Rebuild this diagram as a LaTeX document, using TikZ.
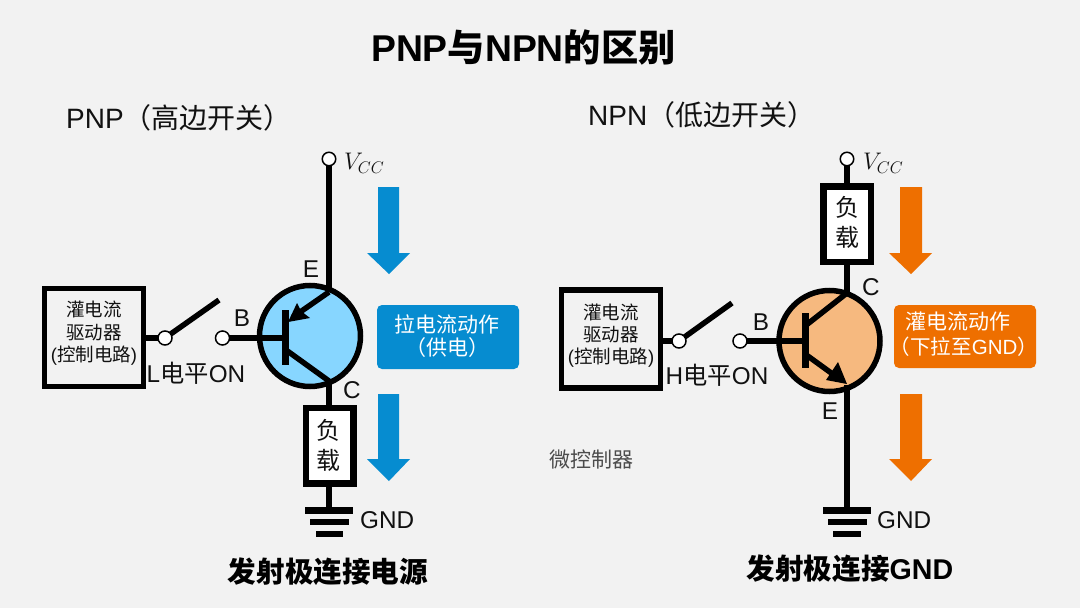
\documentclass[tikz,border=0pt]{standalone}
\usepackage{fix-cm}
\usepackage{fontspec}
\setmainfont{Liberation Sans}
\newfontfamily\cjk{Noto Sans CJK SC}
\usetikzlibrary{calc}
\definecolor{bgc}{HTML}{F2F2F2}
\definecolor{pnpblue}{HTML}{068CD0}
\definecolor{npnorange}{HTML}{EE6F00}
\definecolor{pnpfill}{HTML}{87D6FF}
\definecolor{npnfill}{HTML}{F6B97F}
\definecolor{inkc}{HTML}{111111}
\newcommand{\fs}[1]{\fontsize{#1}{#1}\selectfont}
\tikzset{
  x=1pt,y=-1pt,
  wire/.style={draw=black,line width=6.5pt},
  thinwire/.style={draw=black,line width=5.5pt},
  bar/.style={draw=black,line width=6.5pt},
  term/.style={circle,draw=black,fill=white,line width=1.5pt,minimum size=14pt,inner sep=0pt},
  vterm/.style={circle,draw=black,fill=white,line width=1.5pt,minimum size=13.5pt,inner sep=0pt},
  drv/.style={draw=black,line width=5.5pt,fill=bgc,minimum width=99pt,minimum height=98pt,inner sep=0pt},
  load/.style={draw=black,line width=6.5pt,fill=white,minimum width=47.5pt,minimum height=75.5pt,inner sep=0pt},
  body/.style={circle,draw=black,line width=5.5pt,minimum size=101pt,inner sep=0pt},
  lab/.style={inner sep=0pt,text=inkc,font=\fs{24.3}},
  drvtext/.style={inner sep=0pt,align=center,text=inkc,font=\fs{18.5},text height=14pt,text depth=3pt},
  act/.style={draw=none,rounded corners=5pt,inner sep=0pt},
  acttext/.style={inner sep=0pt,text=white,font=\fs{21}},
}
\begin{document}
\begin{tikzpicture}
\useasboundingbox (0,0) rectangle (1080,608);
\fill[bgc] (0,0) rectangle (1080,608);

% titles
\node[inner sep=0pt,font=\fs{37.3}\bfseries] (title) at (523.5,47) {PNP{\cjk 与}NPN{\cjk 的区别}};
\node[lab,font=\fs{28},anchor=west] (tp) at (66,118) {PNP{\cjk （高边开关）}};
\node[lab,font=\fs{28},anchor=west] (tn) at (588,115) {NPN{\cjk （低边开关）}};
\node[inner sep=0pt,font=\fs{28.6}\bfseries] (cp) at (328,572) {\cjk 发射极连接电源};
\node[inner sep=0pt,font=\fs{28.6}\bfseries] (cn) at (850,569) {{\cjk 发射极连接}GND};
\node[inner sep=0pt,text=black!70,font=\fs{21}\cjk] (mcu) at (591,460) {微控制器};

% ---------- PNP ----------
\node[body,fill=pnpfill] (bp) at (310,336) {};
\coordinate (ep) at (329,292);
\coordinate (cpp) at (329,381);
\node[load] (lp) at (329.5,445.5) {};
\node[inner sep=0pt,font=\fs{24}\cjk,text=inkc] (lpa) at (328,430) {负};
\node[inner sep=0pt,font=\fs{24}\cjk,text=inkc] (lpb) at (328,460) {载};
\coordinate (gp) at (329,510);
\draw[wire] (329,159) -- (ep);
\node[vterm] (vp) at (329,159) {};
\node[inner sep=0pt,anchor=west,text=inkc] (vpl) at (344,163) {\fs{24}$V_{CC}$};
\draw[wire] (cpp) -- (lp.north -| cpp);
\draw[wire] (lp.south -| gp) -- (gp);
\coordinate (gp1a) at (305,510.5); \coordinate (gp1b) at (353,510.5);
\coordinate (gp2a) at (310,522); \coordinate (gp2b) at (349,522);
\coordinate (gp3a) at (316,534); \coordinate (gp3b) at (343,534);
\draw[bar] (gp1a) -- (gp1b);
\draw[bar] (gp2a) -- (gp2b);
\draw[bar] (gp3a) -- (gp3b);
\node[lab,anchor=west] (gndp) at (360,520) {GND};
\coordinate (bbp1) at (285.5,310); \coordinate (bbp2) at (285.5,365);
\draw[line width=7pt] (bbp1) -- (bbp2);
\coordinate (ejp) at (293,317);
\coordinate (cjp) at (286,350);
\draw[thinwire] (ep) -- (ejp);
\draw[thinwire] (cjp) -- (cpp);
\fill[black] (288,322) -- (297,303) -- (301,311) -- (310,318) -- cycle;
\node[drv] (dp) at (94,337.5) {};
\node[drvtext] (dp1) at (94,311) {\cjk 灌电流};
\node[drvtext] (dp2) at (94,333.5) {\cjk 驱动器};
\node[drvtext] (dp3) at (94,356) {({\cjk 控制电路})};
\coordinate (sp1c) at (165,338);
\coordinate (armp) at (219,300);
\coordinate (bjp) at (285,338);
\draw[wire] (dp.east |- sp1c) -- (sp1c);
\draw[thinwire] (sp1c) -- (armp);
\draw[wire] (222.5,338) -- (bjp);
\node[term] (sp1) at (sp1c) {};
\node[term] (sp2) at (222.5,338) {};
\node[lab] (blp) at (242,318) {B};
\node[lab] (elp) at (311,269) {E};
\node[lab] (clp) at (352,390) {C};
\node[lab] (lon) at (196,373) {L{\cjk 电平}ON};
\fill[pnpblue] (378,187) -- (399,187) -- (399,253) -- (410,253) -- (389,274) -- (367,253) -- (378,253) -- cycle;
\fill[pnpblue] (378,394) -- (399,394) -- (399,459) -- (410,459) -- (389,481) -- (367,459) -- (378,459) -- cycle;
\node[act,fill=pnpblue,minimum width=142pt,minimum height=64pt] (ap) at (448,337) {};
\node[acttext] (ap1) at (446.5,324) {\cjk 拉电流动作};
\node[acttext] (ap2) at (447.5,348) {\cjk （供电）};

% ---------- NPN ----------
\node[body,fill=npnfill] (bn) at (829.5,341) {};
\node[load] (ln) at (847,224) {};
\node[inner sep=0pt,font=\fs{24}\cjk,text=inkc] (lna) at (847,207) {负};
\node[inner sep=0pt,font=\fs{24}\cjk,text=inkc] (lnb) at (847,237) {载};
\coordinate (cjn) at (847,293);
\coordinate (ejn) at (847,385);
\coordinate (gn) at (847,510);
\draw[wire] (847,159) -- (ln.north);
\node[vterm] (vn) at (847,159) {};
\node[inner sep=0pt,anchor=west,text=inkc] (vnl) at (863,163) {\fs{24}$V_{CC}$};
\draw[wire] (ln.south) -- (cjn);
\draw[wire] (ejn) -- (gn);
\coordinate (gn1a) at (823,510.5); \coordinate (gn1b) at (871,510.5);
\coordinate (gn2a) at (828,522); \coordinate (gn2b) at (867,522);
\coordinate (gn3a) at (833,534); \coordinate (gn3b) at (861,534);
\draw[bar] (gn1a) -- (gn1b);
\draw[bar] (gn2a) -- (gn2b);
\draw[bar] (gn3a) -- (gn3b);
\node[lab,anchor=west] (gndn) at (877,520) {GND};
\coordinate (bbn1) at (805.5,313); \coordinate (bbn2) at (805.5,368);
\draw[line width=7pt] (bbn1) -- (bbn2);
\coordinate (cbn) at (805,326);
\coordinate (ebn) at (805,354);
\coordinate (etn) at (834,375);
\draw[thinwire] (cbn) -- (cjn);
\draw[thinwire] (ebn) -- (etn);
\fill[black] (847,384) -- (826,380) -- (832,371) -- (838,362) -- cycle;
\node[drv] (dn) at (611,339) {};
\node[drvtext] (dn1) at (611,314) {\cjk 灌电流};
\node[drvtext] (dn2) at (611,336) {\cjk 驱动器};
\node[drvtext] (dn3) at (611,358) {({\cjk 控制电路})};
\coordinate (sn1c) at (679,341);
\coordinate (armn) at (732,303);
\coordinate (bjn) at (805,341);
\draw[wire] (dn.east |- sn1c) -- (sn1c);
\draw[thinwire] (sn1c) -- (armn);
\draw[wire] (740,341) -- (bjn);
\node[term] (sn1) at (sn1c) {};
\node[term] (sn2) at (740,341) {};
\node[lab] (bln) at (761,322) {B};
\node[lab] (cln) at (871,287) {C};
\node[lab] (eln) at (830,411) {E};
\node[lab] (hon) at (717,375) {H{\cjk 电平}ON};
\fill[npnorange] (900,187) -- (922,187) -- (922,253) -- (932,253) -- (911,274) -- (889,253) -- (900,253) -- cycle;
\fill[npnorange] (900,394) -- (922,394) -- (922,459) -- (932,459) -- (911,481) -- (889,459) -- (900,459) -- cycle;
\node[act,fill=npnorange,minimum width=142pt,minimum height=63pt] (an) at (965,336.5) {};
\node[acttext] (an1) at (958,322) {\cjk 灌电流动作};
\node[acttext,font=\fs{20.5}] (an2) at (964,347) {{\cjk （下拉至}GND{\cjk ）}};
\end{tikzpicture}
\end{document}
